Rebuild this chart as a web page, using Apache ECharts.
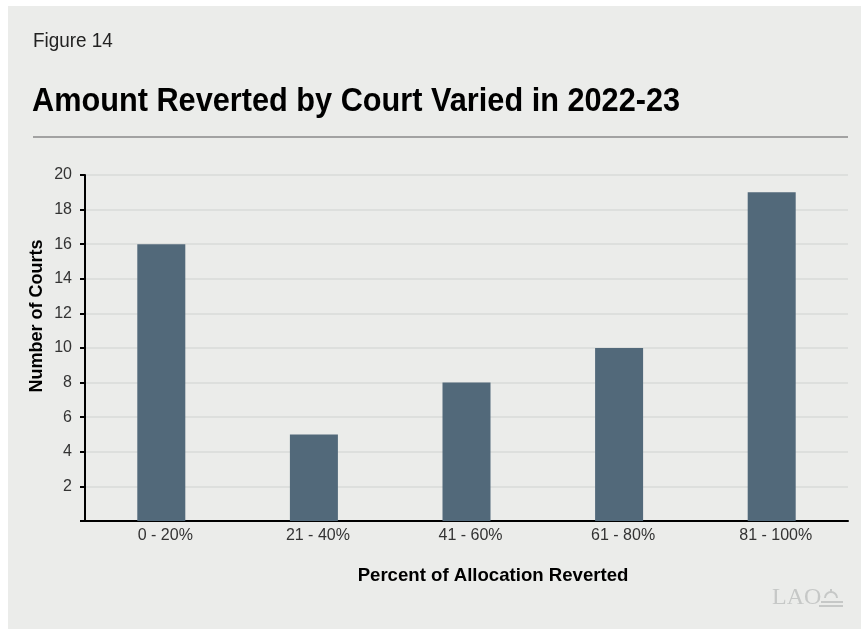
<!DOCTYPE html>
<html><head><meta charset="utf-8">
<script src="https://cdn.jsdelivr.net/npm/echarts@6/dist/echarts.min.js"></script>
<style>html,body{margin:0;padding:0;background:#fff}#c{width:861px;height:629px}</style>
</head><body><div id="c"></div>
<script>
const categories = ['0 - 20%', '21 - 40%', '41 - 60%', '61 - 80%', '81 - 100%'];
const courts = [16, 5, 8, 10, 19];
const yTicks = [0, 2, 4, 6, 8, 10, 12, 14, 16, 18, 20];

const chart = echarts.init(document.getElementById('c'), null, {renderer: 'canvas'});
const font = '"Liberation Sans", Arial, Helvetica, sans-serif';
const logo = '#c6c8c7';
chart.setOption({
  animation: false,
  backgroundColor: '#ffffff',
  textStyle: {fontFamily: font},
  graphic: [
    {type: 'rect', z: -10, shape: {x: 8, y: 6, width: 853, height: 623}, style: {fill: '#ebecea'}},
    {type: 'text', x: 33, y: 41, scaleX: 0.9, style: {text: 'Figure 14', font: '21px ' + font, fill: '#222', verticalAlign: 'middle'}},
    {type: 'text', x: 32, y: 102, scaleX: 0.93, style: {text: 'Amount Reverted by Court Varied in 2022-23', font: 'bold 33px ' + font, fill: '#000', verticalAlign: 'middle'}},
    {type: 'line', shape: {x1: 33, y1: 137, x2: 848, y2: 137}, style: {stroke: '#8a8a8a', lineWidth: 1.5}},
    {type: 'text', x: 37, y: 316, rotation: Math.PI / 2, style: {text: 'Number of Courts', font: 'bold 18px ' + font, fill: '#000', align: 'center', verticalAlign: 'middle'}},
    {type: 'text', x: 493, y: 576, style: {text: 'Percent of Allocation Reverted', font: 'bold 18.6px ' + font, fill: '#000', align: 'center', verticalAlign: 'middle'}},
    {type: 'text', x: 772, y: 598, style: {text: 'LAO', font: '24px "Liberation Serif", serif', fill: logo, align: 'left', verticalAlign: 'middle'}},
    {type: 'arc', shape: {cx: 831, cy: 598, r: 6, startAngle: Math.PI, endAngle: 2 * Math.PI}, style: {stroke: logo, lineWidth: 2, fill: null}},
    {type: 'line', shape: {x1: 831, y1: 589, x2: 831, y2: 592}, style: {stroke: logo, lineWidth: 2}},
    {type: 'line', shape: {x1: 821, y1: 602, x2: 843, y2: 602}, style: {stroke: logo, lineWidth: 2}},
    {type: 'line', shape: {x1: 819, y1: 606, x2: 843, y2: 606}, style: {stroke: logo, lineWidth: 2}}
  ],
  grid: {left: 85, right: 13, top: 175, bottom: 108, containLabel: false},
  xAxis: {
    type: 'category', data: categories,
    axisLine: {lineStyle: {color: '#000', width: 2}},
    axisTick: {show: false},
    axisLabel: {color: '#333', fontSize: 16, margin: 7, fontFamily: font, padding: [0, 0, 0, 8]}
  },
  yAxis: {
    type: 'value', min: yTicks[0], max: yTicks[yTicks.length - 1], interval: 2,
    axisLine: {show: true, lineStyle: {color: '#000', width: 2}},
    axisTick: {show: true, length: 5, lineStyle: {color: '#000', width: 2}},
    axisLabel: {color: '#333', fontSize: 16, margin: 13, fontFamily: font,
      formatter: v => v === 0 ? '' : String(v)},
    splitLine: {lineStyle: {color: '#d9dbd9', width: 1.5}}
  },
  series: [{
    type: 'bar', data: courts, barWidth: 48,
    itemStyle: {color: '#52697a'}
  }]
});
</script></body></html>
